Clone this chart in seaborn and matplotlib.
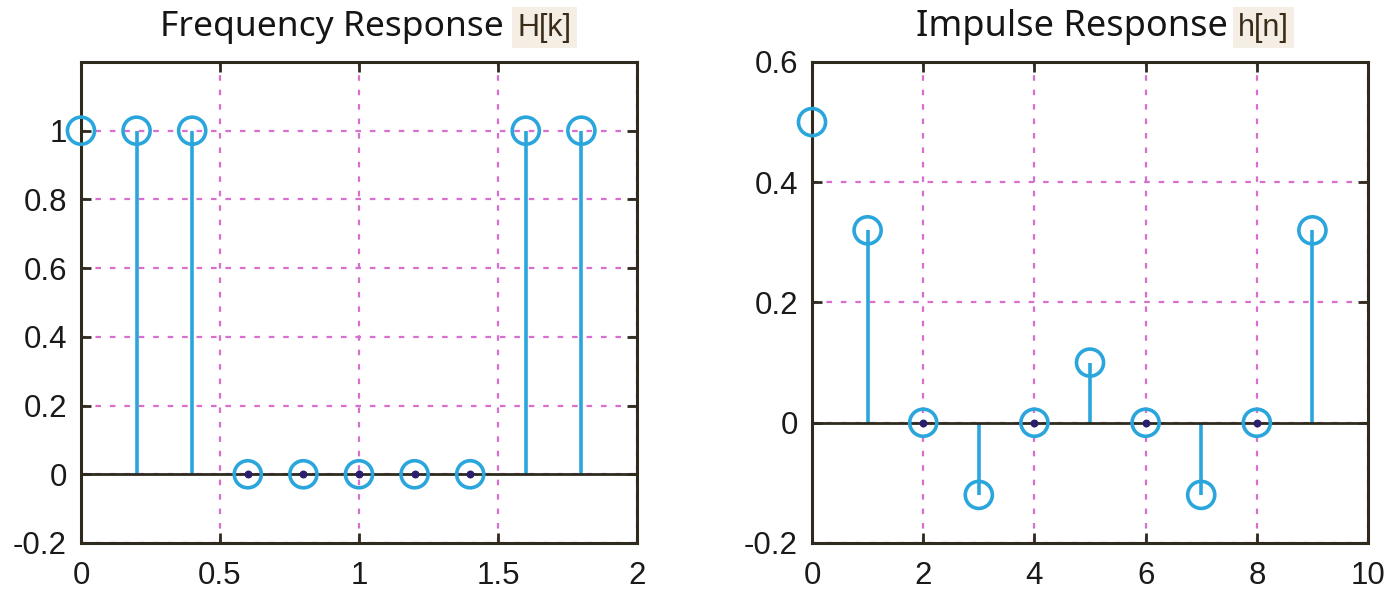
import numpy as np
import pandas as pd
import matplotlib
matplotlib.use("Agg")
import matplotlib.pyplot as plt
import seaborn as sns

# Sampled frequency response H[k] at k*0.2 (normalized frequency)
freq_k = [0.0, 0.2, 0.4, 0.6, 0.8, 1.0, 1.2, 1.4, 1.6, 1.8]
H_k = [1, 1, 1, 0, 0, 0, 0, 0, 1, 1]

# Impulse response h[n]
n_idx = [0, 1, 2, 3, 4, 5, 6, 7, 8, 9]
h_n = [0.5, 0.32, 0.0, -0.12, 0.0, 0.1, 0.0, -0.12, 0.0, 0.32]

freq_xticks = [0, 0.5, 1, 1.5, 2]
freq_xticklabels = ["0", "0.5", "1", "1.5", "2"]
freq_yticks = [-0.2, 0, 0.2, 0.4, 0.6, 0.8, 1]
freq_yticklabels = ["-0.2", "0", "0.2", "0.4", "0.6", "0.8", "1"]

imp_xticks = [0, 2, 4, 6, 8, 10]
imp_xticklabels = ["0", "2", "4", "6", "8", "10"]
imp_yticks = [-0.2, 0, 0.2, 0.4, 0.6]
imp_yticklabels = ["-0.2", "0", "0.2", "0.4", "0.6"]

sns.set_theme(style="white")
plt.rcParams["font.family"] = ["Liberation Sans", "DejaVu Sans"]

STEM = "#2aa6dc"
FRAME = "#2e2a1e"
GRID = "#d86fd0"

fig = plt.figure(figsize=(13.89, 5.92), dpi=100)
ax1 = fig.add_axes([0.0583, 0.0828, 0.4003, 0.8125])
ax2 = fig.add_axes([0.5846, 0.0828, 0.4003, 0.8125])


def stem_panel(ax, x, y, xlim, ylim, xticks, xtl, yticks, ytl):
    df = pd.DataFrame({"x": x, "y": y})
    ax.set_xlim(*xlim)
    ax.set_ylim(*ylim)
    ax.set_xticks(xticks)
    ax.set_xticklabels(xtl)
    ax.set_yticks(yticks)
    ax.set_yticklabels(ytl)
    ax.grid(True, color=GRID, linestyle=(0, (2.5, 4)), linewidth=1.6, zorder=0)
    ax.vlines(df["x"], 0, df["y"], color=STEM, linewidth=2.6, zorder=2)
    ax.axhline(0, color=FRAME, linewidth=2.0, zorder=3)
    sns.scatterplot(data=df, x="x", y="y", ax=ax, marker="o", s=380,
                    facecolors="none", edgecolor=STEM, linewidth=2.6,
                    zorder=4, legend=False, clip_on=False)
    zeros = df[df["y"] == 0]
    ax.scatter(zeros["x"], zeros["y"], s=22, color="#2a1f6e", zorder=5)
    ax.set_xlabel("")
    ax.set_ylabel("")
    for sp in ax.spines.values():
        sp.set_color(FRAME)
        sp.set_linewidth(2.2)
        sp.set_visible(True)
    ax.tick_params(axis="both", which="both", direction="in", length=7,
                   width=2, color=FRAME, labelsize=22.5, labelcolor="#1a1a1a",
                   top=True, right=True, bottom=True, left=True)
    ax.tick_params(axis="x", pad=13)
    ax.tick_params(axis="y", pad=10)


stem_panel(ax1, freq_k, H_k, (0, 2), (-0.2, 1.2),
           freq_xticks, freq_xticklabels, freq_yticks, freq_yticklabels)
stem_panel(ax2, n_idx, h_n, (0, 10), (-0.2, 0.6),
           imp_xticks, imp_xticklabels, imp_yticks, imp_yticklabels)

# Titles: main text plus a smaller boxed symbol label
title_font = ["Noto Sans", "DejaVu Sans"]
sym_font = ["Liberation Sans", "DejaVu Sans"]
box = dict(boxstyle="square,pad=0.18", facecolor="#f4eee4", edgecolor="none")
fig.text(160 / 1389, 0.955, "Frequency Response", fontsize=25.5, family=title_font,
         color="#151515", ha="left", va="center")
fig.text(517 / 1389, 0.953, "H[k]", fontsize=22, family=sym_font,
         color="#3a2c18", ha="left", va="center", bbox=box)
fig.text(916 / 1389, 0.955, "Impulse Response", fontsize=26, family=title_font,
         color="#151515", ha="left", va="center")
fig.text(1238 / 1389, 0.953, "h[n]", fontsize=22, family=sym_font,
         color="#3a2c18", ha="left", va="center", bbox=box)

fig.savefig("out.png", dpi=100)
